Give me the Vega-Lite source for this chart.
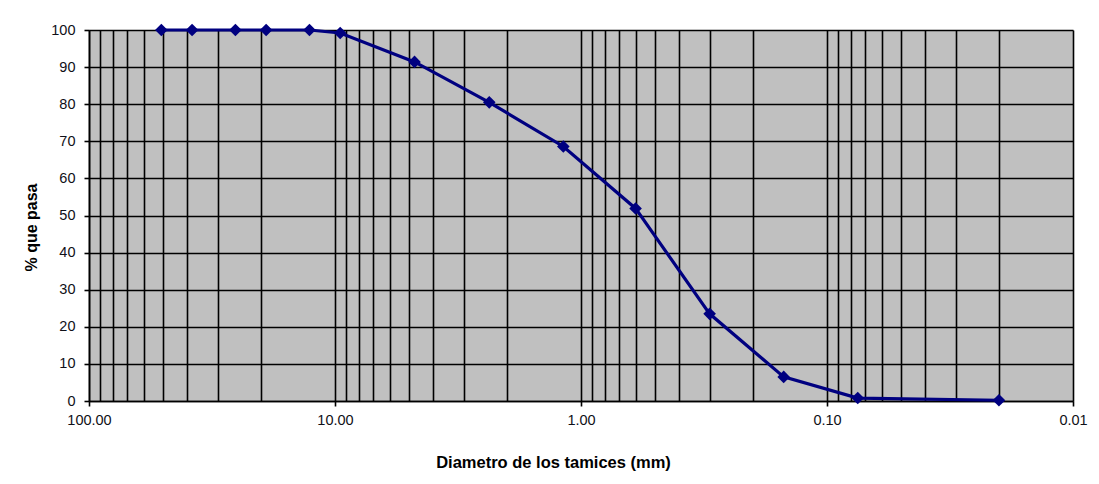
{
  "$schema": "https://vega.github.io/schema/vega-lite/v6.json",
  "width": 984,
  "height": 371,
  "autosize": "none",
  "padding": {"left": 89, "top": 30, "right": 26, "bottom": 83},
  "background": "white",
  "config": {
    "view": {"fill": "#C0C0C0", "stroke": null},
    "font": "Liberation Sans"
  },
  "data": {
    "values": [
      {"diametro": 50.8, "pasa": 100},
      {"diametro": 38.1, "pasa": 100},
      {"diametro": 25.4, "pasa": 100},
      {"diametro": 19.05, "pasa": 100},
      {"diametro": 12.7, "pasa": 100},
      {"diametro": 9.525, "pasa": 99.2},
      {"diametro": 4.75, "pasa": 91.4},
      {"diametro": 2.36, "pasa": 80.5},
      {"diametro": 1.18, "pasa": 68.6},
      {"diametro": 0.6, "pasa": 51.9},
      {"diametro": 0.3, "pasa": 23.5},
      {"diametro": 0.15, "pasa": 6.5},
      {"diametro": 0.075, "pasa": 0.8},
      {"diametro": 0.02, "pasa": 0.2}
    ]
  },
  "encoding": {
    "x": {
      "field": "diametro",
      "type": "quantitative",
      "scale": {"type": "log", "domain": [100, 0.01], "nice": false},
      "axis": {
        "title": "Diametro de los tamices (mm)",
        "titleFontSize": 16.5,
        "titleFontWeight": "bold",
        "titleColor": "black",
        "titleX": 464,
        "titleY": 61,
        "titleBaseline": "middle",
        "values": [100, 90, 80, 70, 60, 50, 40, 30, 20, 10, 9, 8, 7, 6, 5, 4, 3, 2, 1, 0.9, 0.8, 0.7, 0.6, 0.5, 0.4, 0.3, 0.2, 0.1, 0.09, 0.08, 0.07, 0.06, 0.05, 0.04, 0.03, 0.02, 0.01],
        "labelExpr": "abs(log(datum.value)/LN10 - round(log(datum.value)/LN10)) < 1e-6 ? format(datum.value, '.2f') : ''",
        "labelOverlap": false,
        "labelFlush": false,
        "labelFontSize": 14.5,
        "labelColor": "#101018",
        "labelPadding": 7,
        "grid": true,
        "gridColor": "black",
        "gridWidth": 1.6,
        "gridOpacity": 1,
        "domainColor": "black",
        "domainWidth": 1.6,
        "tickColor": "black",
        "tickWidth": 1.6,
        "tickSize": 5,
        "tickOpacity": {"condition": {"test": "abs(log(datum.value)/LN10 - round(log(datum.value)/LN10)) < 1e-6", "value": 1}, "value": 0}
      }
    },
    "y": {
      "field": "pasa",
      "type": "quantitative",
      "scale": {"domain": [0, 100], "nice": false},
      "axis": {
        "title": "% que pasa",
        "titleFontSize": 16,
        "titleFontWeight": "bold",
        "titleColor": "black",
        "titleX": -58,
        "titleY": 197,
        "titleBaseline": "middle",
        "values": [0, 10, 20, 30, 40, 50, 60, 70, 80, 90, 100],
        "labelFontSize": 14.5,
        "labelColor": "#101018",
        "labelPadding": 9,
        "grid": true,
        "gridColor": "black",
        "gridWidth": 1.6,
        "gridOpacity": 1,
        "domainColor": "black",
        "domainWidth": 1.6,
        "tickColor": "black",
        "tickWidth": 1.6,
        "tickSize": 5
      }
    }
  },
  "layer": [
    {"mark": {"type": "line", "color": "#000080", "strokeWidth": 3.2}},
    {"mark": {"type": "point", "shape": "diamond", "filled": true, "color": "#000080", "size": 160, "opacity": 1}}
  ]
}
